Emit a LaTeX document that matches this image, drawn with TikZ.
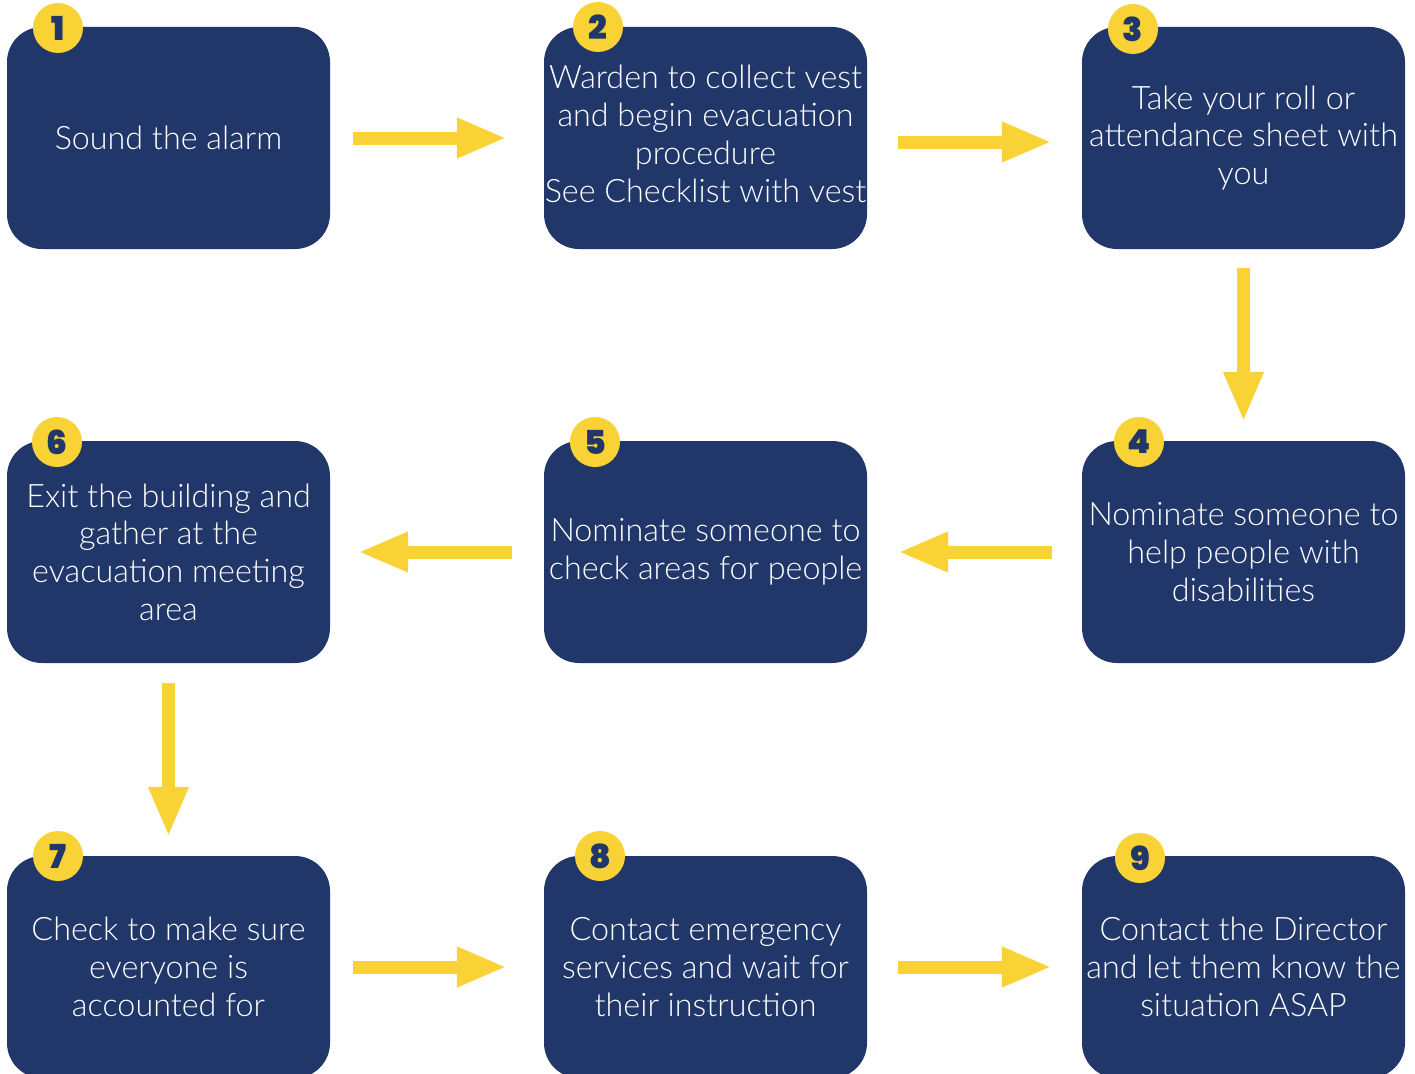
\documentclass[tikz,border=0pt]{standalone}
\usepackage{fontspec}
\setmainfont{Lato}[UprightFont=* Light, BoldFont=* Bold]
\newfontfamily\badgefont{Poppins}[UprightFont=* Black]
\usetikzlibrary{arrows.meta}
\definecolor{navy}{HTML}{213769}
\definecolor{gold}{HTML}{F9D235}
\begin{document}
\begin{tikzpicture}[x=1pt,y=-1pt,
  stepbox/.style={rectangle, rounded corners=35pt, fill=navy, minimum width=323pt,
    minimum height=222pt, inner sep=0pt, text=white, align=center,
    font=\fontsize{32.3}{37.7}\selectfont},
  badge/.style={circle, fill=gold, minimum size=50pt, inner sep=0pt, text=navy,
    font=\badgefont\fontsize{33}{33}\selectfont},
  flow/.style={draw=gold, line width=13pt, -{Triangle[length=50pt,width=37pt]}}]
\useasboundingbox (0,0) rectangle (1415,1073);
\clip (0,0) rectangle (1415,1073);

% step boxes
\node[stepbox] (b1) at (168.5,138) {Sound the alarm};
\node[stepbox] (b2) at (705.5,138) {\raisebox{4pt}{\begin{tabular}{@{}c@{}}Warden to collect vest\\and begin evacuation\\procedure\\See Checklist with vest\end{tabular}}};
\node[stepbox] (b3) at (1243.5,138) {Take your roll or\\attendance sheet with\\you};
\node[stepbox] (b4) at (1243.5,552) {Nominate someone to\\help people with\\disabilities};
\node[stepbox] (b5) at (705.5,552) {Nominate someone to\\check areas for people};
\node[stepbox] (b6) at (168.5,552) {Exit the building and\\gather at the\\evacuation meeting\\area};
\node[stepbox] (b7) at (168.5,967) {Check to make sure\\everyone is\\accounted for};
\node[stepbox] (b8) at (705.5,967) {Contact emergency\\services and wait for\\their instruction};
\node[stepbox] (b9) at (1243.5,967) {Contact the Director\\and let them know the\\situation ASAP};

% number badges
\node[badge] (n1) at (58,28) {1};
\node[badge] (n2) at (598,27) {2};
\node[badge] (n3) at (1133,29) {3};
\node[badge] (n4) at (1139,442) {4};
\node[badge] (n5) at (595,442) {5};
\node[badge] (n6) at (57,442) {6};
\node[badge] (n7) at (58,856) {7};
\node[badge] (n8) at (600,856) {8};
\node[badge] (n9) at (1140,858) {9};

% flow arrows
\draw[flow, shorten <=23pt, shorten >=37pt] (b1) -- (b2);
\draw[flow, shorten <=31pt, shorten >=30pt] ([yshift=-4pt]b2.east) -- ([yshift=-4pt]b3.west);
\draw[flow, shorten <=19pt, shorten >=19pt] (b3) -- (b4);
\draw[flow, shorten <=30pt, shorten >=31pt] (b4) -- (b5);
\draw[flow, shorten <=32pt, shorten >=28pt] (b5) -- (b6);
\draw[flow, shorten <=20pt, shorten >=19pt] (b6) -- (b7);
\draw[flow, shorten <=23pt, shorten >=37pt] (b7) -- (b8);
\draw[flow, shorten <=31pt, shorten >=30pt] (b8) -- (b9);
\end{tikzpicture}
\end{document}
